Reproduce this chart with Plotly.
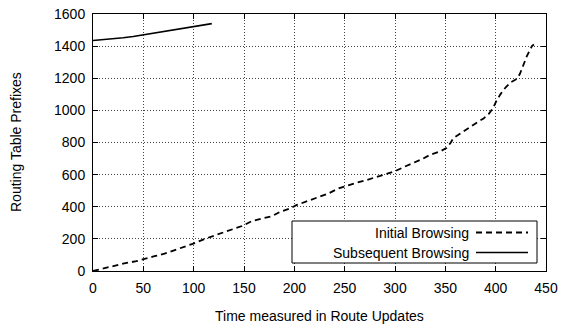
import plotly.graph_objects as go

init_x = [0, 10, 21, 31, 43, 51, 61, 71, 81, 91, 99, 111, 125, 138, 148, 158, 168, 178, 186, 196,
          202, 214, 224, 234, 244, 252, 262, 272, 280, 290, 300, 308, 318, 327, 335, 345, 351, 355,
          358, 365, 373, 380, 388, 393, 397, 401, 405, 410, 415, 421, 424, 428, 431, 436, 438]
init_y = [0, 16, 31, 47, 61, 76, 92, 108, 129, 153, 169, 200, 230, 259, 280, 311, 328, 342, 369, 390,
          410, 437, 462, 483, 515, 532, 550, 567, 583, 604, 621, 645, 670, 697, 724, 745, 765, 796,
          827, 858, 889, 919, 950, 977, 1010, 1062, 1103, 1144, 1175, 1196, 1226, 1287, 1338, 1400, 1410]

subs_x = [0, 10, 20, 30, 40, 50, 60, 70, 80, 90, 100, 110, 118]
subs_y = [1435, 1440, 1447, 1452, 1460, 1470, 1480, 1492, 1503, 1512, 1520, 1530, 1540]

series_names = ["Initial Browsing", "Subsequent Browsing"]
x_ticks = [0, 50, 100, 150, 200, 250, 300, 350, 400, 450]
y_ticks = [0, 200, 400, 600, 800, 1000, 1200, 1400, 1600]
x_title = "Time measured in Route Updates"
y_title = "Routing Table Prefixes"

FONT = "Liberation Sans, Arial, Helvetica, sans-serif"

fig = go.Figure()
fig.add_trace(go.Scatter(x=init_x, y=init_y, mode="lines", name=series_names[0],
                         line=dict(color="black", width=1.8, dash="6px,4px"), showlegend=False))
fig.add_trace(go.Scatter(x=subs_x, y=subs_y, mode="lines", name=series_names[1],
                         line=dict(color="black", width=1.6), showlegend=False))

axis_common = dict(showline=True, linecolor="black", linewidth=1, mirror="ticks",
                   ticks="inside", ticklen=5, tickcolor="black", tickwidth=1,
                   showgrid=True, gridcolor="#444", gridwidth=1, griddash="1px,2px",
                   zeroline=False, automargin=False,
                   tickfont=dict(family=FONT, size=14, color="black"))

fig.update_xaxes(range=[0, 450], tickvals=x_ticks, ticklabelstandoff=4, **axis_common)
fig.update_yaxes(range=[0, 1600], tickvals=y_ticks, ticklabelstandoff=4, **axis_common)

W, H = 563, 334
L, R, T, B = 93, 17, 14, 63
pw, ph = W - L - R, H - T - B
def px(xp):
    return (xp - L) / pw
def py(yp):
    return 1 - (yp - T) / ph

# gnuplot-style legend: text right-aligned, line sample to the right
shapes = [dict(type="rect", xref="paper", yref="paper", x0=px(292), x1=px(537), y0=py(263), y1=py(221),
               line=dict(color="black", width=1), fillcolor="white", layer="above")]
rows = [(232.5, "6px,4px", 1.8), (252.5, "solid", 1.6)]
annotations = []
for (yy, dash, w), name in zip(rows, series_names):
    shapes.append(dict(type="line", xref="paper", yref="paper", x0=px(476), x1=px(528), y0=py(yy), y1=py(yy),
                       line=dict(color="black", width=w, dash=dash), layer="above"))
    annotations.append(dict(xref="paper", yref="paper", x=px(471), y=py(yy), text=name, showarrow=False,
                            xanchor="right", yanchor="middle", font=dict(family=FONT, size=14, color="black")))

annotations.append(dict(xref="paper", yref="paper", x=px(319.5), y=py(316), text=x_title, showarrow=False,
                        xanchor="center", yanchor="middle", font=dict(family=FONT, size=14, color="black")))
annotations.append(dict(xref="paper", yref="paper", x=px(16), y=py(142), text=y_title, showarrow=False,
                        textangle=-90, xanchor="center", yanchor="middle",
                        font=dict(family=FONT, size=14, color="black")))

fig.update_layout(width=W, height=H, margin=dict(l=L, r=R, t=T, b=B),
                  paper_bgcolor="white", plot_bgcolor="white",
                  shapes=shapes, annotations=annotations, showlegend=False)

fig.write_html("out.html", config={"displayModeBar": False},
               post_script="document.body.style.margin='0';document.body.style.padding='0';")
